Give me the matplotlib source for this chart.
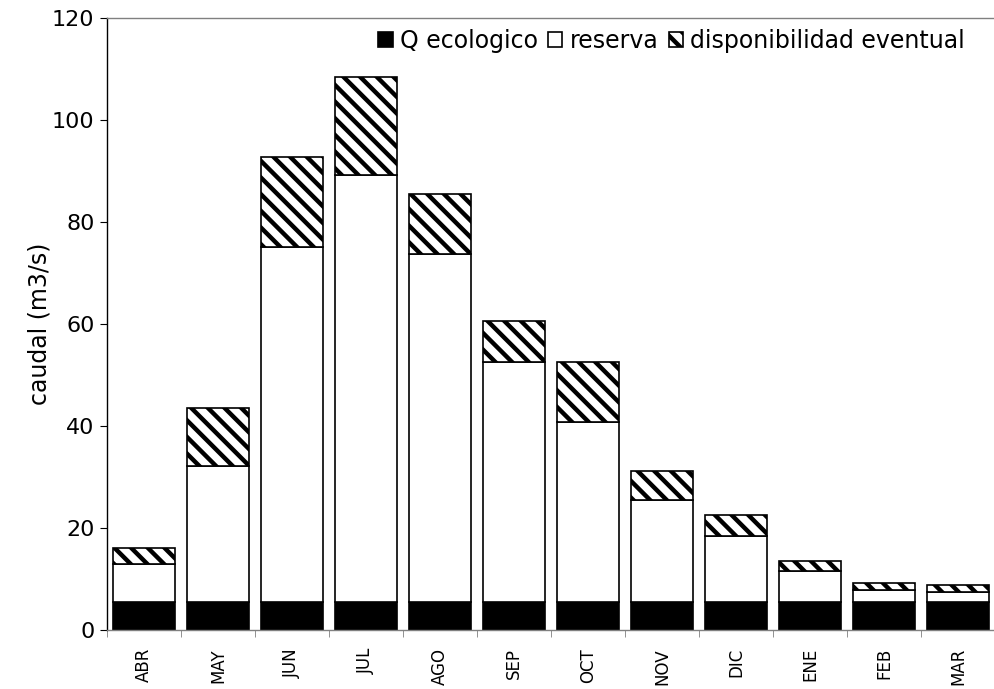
import matplotlib
matplotlib.use("Agg")
import matplotlib.pyplot as plt
import numpy as np

months = ["ABR", "MAY", "JUN", "JUL", "AGO", "SEP", "OCT", "NOV", "DIC", "ENE", "FEB", "MAR"]
q_ecologico = [5.4, 5.4, 5.4, 5.4, 5.4, 5.4, 5.4, 5.4, 5.4, 5.4, 5.4, 5.4]
reserva_top = [13.0, 32.2, 75.1, 89.2, 73.7, 52.5, 40.8, 25.4, 18.5, 11.5, 7.8, 7.5]
total = [16.1, 43.5, 92.8, 108.4, 85.5, 60.6, 52.6, 31.1, 22.5, 13.6, 9.3, 8.8]

reserva = [r - q for r, q in zip(reserva_top, q_ecologico)]
disponibilidad = [t - r for t, r in zip(total, reserva_top)]

plt.rcParams['font.family'] = ['DejaVu Sans']
plt.rcParams['hatch.linewidth'] = 3.2

fig = plt.figure(figsize=(9.95, 6.89), dpi=100)
ax = fig.add_axes([0.1075, 0.0856, 0.8925, 0.8885])

x = np.arange(len(months))
w = 0.83
ax.bar(x, q_ecologico, w, color='black', edgecolor='black', linewidth=1.2, label='Q ecologico')
ax.bar(x, reserva, w, bottom=q_ecologico, color='white', edgecolor='black', linewidth=1.2, label='reserva')
ax.bar(x, disponibilidad, w, bottom=reserva_top, color='white', edgecolor='black',
       linewidth=1.2, hatch='\\\\', label='disponibilidad eventual')

ax.set_xlim(-0.5, len(months) - 0.5)
ax.set_ylim(0, 120)
ax.set_yticks(np.arange(0, 121, 20))
ax.tick_params(axis='y', labelsize=16, length=5, color='black', pad=4)
ax.set_xticks(x)
ax.set_xticklabels(months, rotation=90, fontsize=12, va='top')
ax.tick_params(axis='x', which='major', length=0, pad=13)
ax.set_xticks(np.arange(-0.5, len(months), 1.0), minor=True)
ax.tick_params(axis='x', which='minor', length=5, color='#808080')
ax.set_ylabel('caudal (m3/s)', fontsize=17, labelpad=0)

for s in ['bottom', 'top', 'right']:
    ax.spines[s].set_color('#808080')
    ax.spines[s].set_linewidth(1.0)
ax.spines['left'].set_color('black')
ax.spines['left'].set_linewidth(1.0)

leg = ax.legend(loc='upper right', ncol=3, frameon=False, fontsize=17,
                handlelength=0.6, handleheight=0.6, handletextpad=0.3,
                columnspacing=0.45, borderaxespad=0.2, bbox_to_anchor=(0.982, 1.005))

fig.savefig('out.png', dpi=100)
